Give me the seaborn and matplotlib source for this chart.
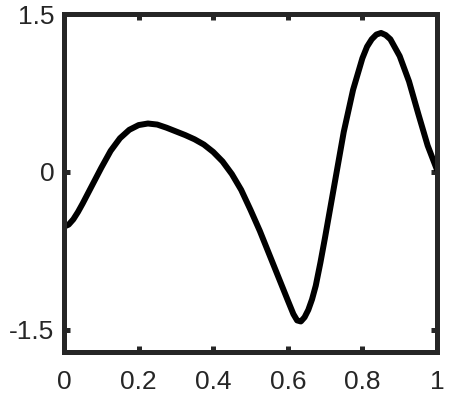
import matplotlib
matplotlib.use('Agg')
import matplotlib.pyplot as plt
import pandas as pd
import seaborn as sns

# values
x_vals = [0, 0.0125, 0.025, 0.0375, 0.05, 0.075, 0.10, 0.125, 0.15, 0.175,
          0.20, 0.225, 0.25, 0.275, 0.30, 0.325, 0.35, 0.375, 0.40, 0.425,
          0.45, 0.475, 0.50, 0.525, 0.55, 0.575, 0.60, 0.615, 0.625, 0.635,
          0.645, 0.655, 0.665, 0.675, 0.6875, 0.70, 0.725, 0.75, 0.775, 0.80,
          0.8125, 0.825, 0.8375, 0.85, 0.8625, 0.875, 0.90, 0.925, 0.95, 0.975,
          1.0]
y_vals = [-0.52, -0.50, -0.45, -0.38, -0.30, -0.13, 0.04, 0.20, 0.32, 0.40,
          0.445, 0.46, 0.45, 0.42, 0.385, 0.35, 0.31, 0.26, 0.19, 0.10,
          -0.02, -0.17, -0.36, -0.56, -0.78, -1.00, -1.22, -1.35, -1.41, -1.42,
          -1.38, -1.31, -1.21, -1.08, -0.86, -0.62, -0.12, 0.38, 0.78, 1.08,
          1.19, 1.26, 1.305, 1.32, 1.30, 1.26, 1.10, 0.86, 0.55, 0.25,
          0.02]
x_ticks = [0, 0.2, 0.4, 0.6, 0.8, 1]
x_ticklabels = ['0', '0.2', '0.4', '0.6', '0.8', '1']
y_ticks = [-1.5, 0, 1.5]
y_ticklabels = ['-1.5', '0', '1.5']

df = pd.DataFrame({'x': x_vals, 'y': y_vals})

sns.set_theme(style='ticks')
plt.rcParams['font.family'] = ['Liberation Sans', 'DejaVu Sans']

fig = plt.figure(figsize=(4.52, 4.0), dpi=100)
ax = fig.add_axes([0.1416, 0.12, 0.8252, 0.845])

sns.lineplot(data=df, x='x', y='y', color='black', linewidth=4.3, ax=ax,
             sort=False, solid_joinstyle='round', solid_capstyle='round')

ax.set_xlim(0, 1)
ax.set_ylim(-1.71, 1.5)
ax.set_xticks(x_ticks)
ax.set_xticklabels(x_ticklabels)
ax.set_yticks(y_ticks)
ax.set_yticklabels(y_ticklabels)
ax.set_xlabel('')
ax.set_ylabel('')

for s in ax.spines.values():
    s.set_visible(True)
    s.set_linewidth(3.6)
    s.set_color('#262626')

ax.tick_params(direction='in', length=4, width=3.6, color='#262626',
               top=True, right=True, labelsize=19, labelcolor='#262626')
ax.tick_params(axis='x', pad=13)
ax.tick_params(axis='y', pad=7)

fig.savefig('out.png', dpi=100)
